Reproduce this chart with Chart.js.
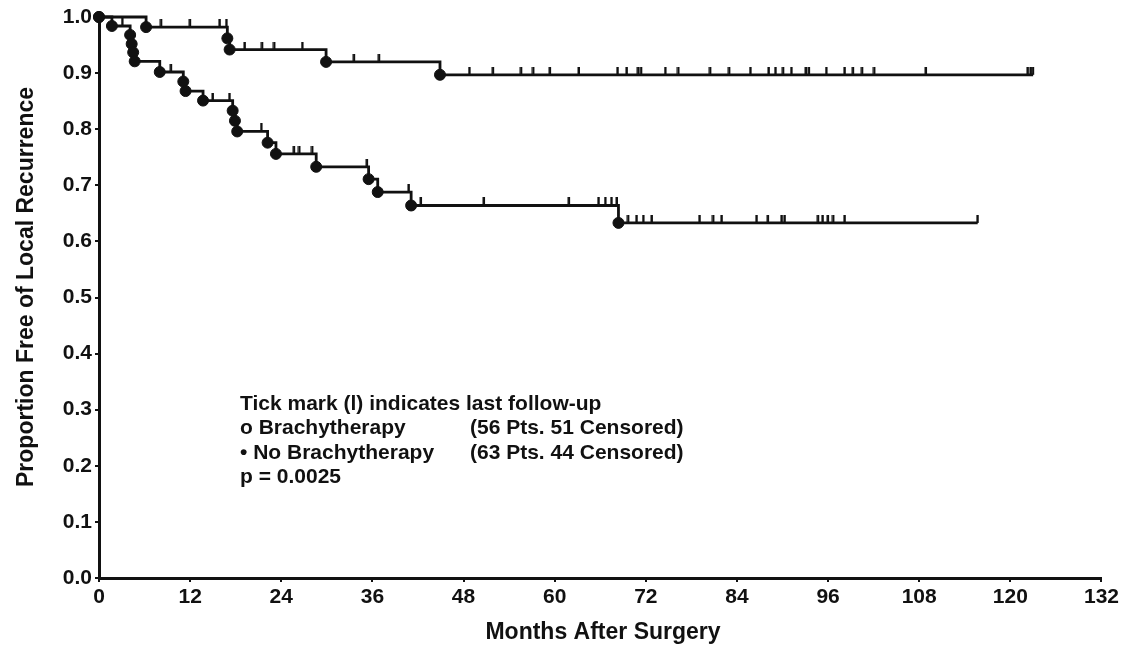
<!DOCTYPE html>
<html>
<head>
<meta charset="utf-8">
<script src="https://cdn.jsdelivr.net/npm/chart.js@4"></script>
<style>
  html, body { margin: 0; padding: 0; background: #fff; }
  #wrap { position: relative; width: 1122px; height: 649px; }
</style>
</head>
<body>
<div id="wrap"><canvas id="kmChart" width="1122" height="649"></canvas></div>
<script>
// Kaplan-Meier curves: months after surgery vs proportion free of local recurrence
const xTicks = [0, 12, 24, 36, 48, 60, 72, 84, 96, 108, 120, 132];
const yTicks = [0, 0.1, 0.2, 0.3, 0.4, 0.5, 0.6, 0.7, 0.8, 0.9, 1.0];

// Brachytherapy arm (56 pts, 51 censored)
const brachyEventMonths = [0, 6.2, 16.9, 17.2, 29.9, 44.9];
const brachySurvival    = [1.0, 0.982, 0.962, 0.942, 0.920, 0.897];
const brachyCensorMonths = [8.2, 12.0, 15.9, 16.8, 19.2, 21.5, 23.1, 26.8, 33.6, 36.9,
  48.8, 51.9, 55.6, 57.2, 59.4, 63.2, 68.3, 69.5, 71.0, 71.4, 74.6, 76.3, 80.5, 83.0,
  85.8, 88.2, 89.1, 90.1, 91.2, 93.1, 93.5, 95.8, 98.2, 99.3, 100.5, 102.1, 108.9,
  122.3, 122.7, 123.0];

// No brachytherapy arm (63 pts, 44 censored)
const noBrachyEventMonths = [0, 1.7, 4.1, 4.3, 4.5, 4.7, 8.0, 11.1, 11.4, 13.7, 17.6,
  17.9, 18.2, 22.2, 23.3, 28.6, 35.5, 36.7, 41.1, 68.4];
const noBrachySurvival = [1.0, 0.984, 0.968, 0.952, 0.937, 0.921, 0.902, 0.885, 0.868,
  0.851, 0.833, 0.815, 0.796, 0.776, 0.756, 0.733, 0.711, 0.688, 0.664, 0.633];
const noBrachyCensorMonths = [3.1, 9.5, 15.0, 17.2, 21.4, 25.7, 26.4, 28.1, 35.3, 40.8,
  42.4, 50.7, 61.9, 65.8, 66.7, 67.5, 68.2, 69.7, 70.8, 71.7, 72.8, 79.1, 80.9, 82.0,
  86.6, 88.1, 89.9, 90.3, 94.7, 95.3, 96.0, 96.7, 98.2, 115.7];

const xTitle = 'Months After Surgery';
const yTitle = 'Proportion Free of Local Recurrence';
const noteHeader = 'Tick mark (l) indicates last follow-up';
const groupLabels = ['o Brachytherapy', '\u2022 No Brachytherapy'];
const groupCounts = ['(56 Pts. 51 Censored)', '(63 Pts. 44 Censored)'];
const pValueLabel = 'p = 0.0025';

// survival value of a step curve at time t
function survivalAt(times, values, t) {
  let s = values[0];
  for (let i = 0; i < times.length; i++) {
    if (times[i] <= t) s = values[i];
  }
  return s;
}

function curvePoints(times, values, censors) {
  const pts = times.map((t, i) => ({ x: t, y: values[i] }));
  const last = censors[censors.length - 1];
  pts.push({ x: last, y: survivalAt(times, values, last) });
  return pts;
}

function censorPoints(times, values, censors) {
  return censors.map(t => ({ x: t, y: survivalAt(times, values, t) }));
}

// small upright tick sitting on top of the line
const tickMark = document.createElement('canvas');
tickMark.width = 4;
tickMark.height = 16;
const tctx = tickMark.getContext('2d');
tctx.fillStyle = '#111';
tctx.fillRect(0.5, 0, 2.5, 8);

const FONT = '"Liberation Sans", Arial, Helvetica, sans-serif';

const notes = {
  id: 'notes',
  afterDraw(chart) {
    const ctx = chart.ctx;
    ctx.save();
    ctx.fillStyle = '#111';
    ctx.textBaseline = 'middle';

    ctx.font = 'bold 21px ' + FONT;
    ctx.fillText(noteHeader, 240, 404);
    ctx.fillText(groupLabels[0], 240, 428);
    ctx.fillText(groupCounts[0], 470, 428);
    ctx.fillText(groupLabels[1], 240, 453);
    ctx.fillText(groupCounts[1], 470, 453);
    ctx.fillText(pValueLabel, 240, 477);

    ctx.font = 'bold 23px ' + FONT;
    ctx.textAlign = 'center';
    ctx.fillText(xTitle, 603, 633);
    ctx.translate(27, 287);
    ctx.rotate(-Math.PI / 2);
    ctx.fillText(yTitle, 0, 0);
    ctx.restore();
  }
};

function lineSet(times, values, censors) {
  const pts = curvePoints(times, values, censors);
  return {
    data: pts,
    stepped: 'before',
    borderColor: '#111',
    borderWidth: 2.8,
    pointRadius: pts.map((p, i) => i < times.length ? 5.5 : 0),
    pointBackgroundColor: '#111',
    pointBorderColor: '#111',
    pointBorderWidth: 1,
    showLine: true,
    clip: false
  };
}

function tickSet(times, values, censors) {
  return {
    data: censorPoints(times, values, censors),
    showLine: false,
    pointStyle: tickMark,
    pointRadius: 4,
    clip: false
  };
}

const tickFont = { family: FONT, size: 21, weight: 'bold' };

new Chart(document.getElementById('kmChart'), {
  type: 'scatter',
  data: {
    datasets: [
      lineSet(brachyEventMonths, brachySurvival, brachyCensorMonths),
      tickSet(brachyEventMonths, brachySurvival, brachyCensorMonths),
      lineSet(noBrachyEventMonths, noBrachySurvival, noBrachyCensorMonths),
      tickSet(noBrachyEventMonths, noBrachySurvival, noBrachyCensorMonths)
    ]
  },
  options: {
    responsive: false,
    animation: false,
    layout: { padding: { top: 17, right: 18, left: 0, bottom: 0 } },
    plugins: {
      legend: { display: false },
      tooltip: { enabled: false }
    },
    scales: {
      x: {
        type: 'linear',
        min: xTicks[0],
        max: xTicks[xTicks.length - 1],
        afterBuildTicks: s => { s.ticks = xTicks.map(v => ({ value: v })); },
        afterFit: s => { s.height = 71; },
        grid: { drawOnChartArea: false, drawTicks: true, tickLength: 4, color: '#111', lineWidth: 2 },
        border: { display: true, color: '#111', width: 3 },
        ticks: { color: '#111', padding: 3, maxRotation: 0, font: tickFont }
      },
      y: {
        type: 'linear',
        min: yTicks[0],
        max: yTicks[yTicks.length - 1],
        afterBuildTicks: s => { s.ticks = yTicks.map(v => ({ value: v })); },
        afterFit: s => { s.width = 99; },
        grid: { drawOnChartArea: false, drawTicks: true, tickLength: 4, color: '#111', lineWidth: 2 },
        border: { display: true, color: '#111', width: 3 },
        ticks: {
          color: '#111',
          padding: 3,
          font: tickFont,
          callback: v => Number(v).toFixed(1)
        }
      }
    }
  },
  plugins: [notes]
});
</script>
</body>
</html>
